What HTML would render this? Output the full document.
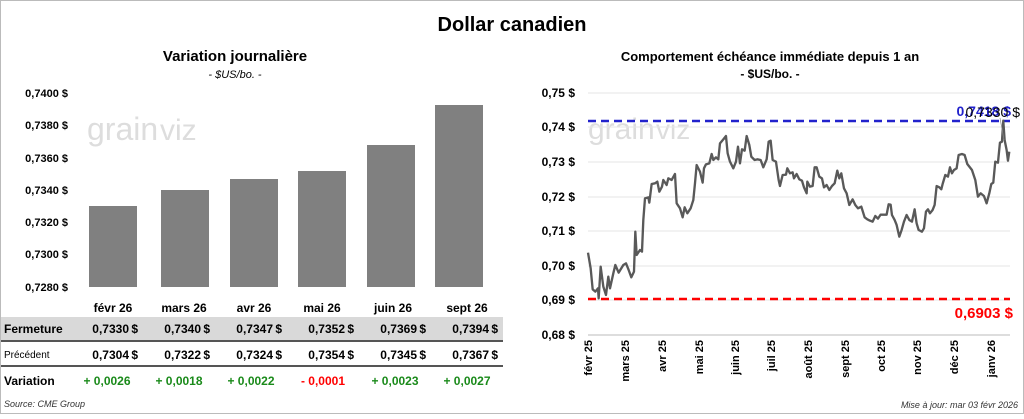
<!DOCTYPE html>
<html><head><meta charset="utf-8"><style>
body{margin:0;background:#fff;font-family:"Liberation Sans",Arial,sans-serif;}
svg text{font-family:"Liberation Sans",Arial,sans-serif;}
</style></head><body>
<svg width="1024" height="414" viewBox="0 0 1024 414" xmlns="http://www.w3.org/2000/svg">
<rect x="0.5" y="0.5" width="1023" height="413" fill="#fff" stroke="#bbb"/>
<text x="512" y="31" text-anchor="middle" font-size="20" font-weight="bold">Dollar canadien</text>
<!-- left -->
<text x="235" y="61" text-anchor="middle" font-size="15" font-weight="bold">Variation  journalière</text>
<text x="235" y="78" text-anchor="middle" font-size="11" font-style="italic">- $US/bo. -</text>
<text x="87" y="140" font-size="32" fill="#ddd">grain</text><text x="160" y="140" font-size="30" fill="#ddd">viz</text>
<g font-size="11" font-weight="bold" text-anchor="end">
<text x="68" y="97">0,7400 $</text><text x="68" y="129">0,7380 $</text><text x="68" y="162">0,7360 $</text><text x="68" y="194">0,7340 $</text><text x="68" y="226">0,7320 $</text><text x="68" y="258">0,7300 $</text><text x="68" y="291">0,7280 $</text>
</g>
<g fill="#808080">
<rect x="89" y="206" width="48" height="81"/><rect x="161" y="190" width="48" height="97"/><rect x="230" y="179" width="48" height="108"/><rect x="298" y="171" width="48" height="116"/><rect x="367" y="145" width="48" height="142"/><rect x="435" y="105" width="48" height="182"/>
</g>
<g font-size="12" font-weight="bold" text-anchor="middle">
<text x="113" y="312">févr 26</text><text x="184" y="312">mars 26</text><text x="254" y="312">avr 26</text><text x="322" y="312">mai 26</text><text x="393" y="312">juin 26</text><text x="467" y="312">sept 26</text>
</g>
<rect x="1" y="317" width="502" height="23" fill="#d9d9d9"/>
<rect x="1" y="340" width="502" height="2" fill="#555"/>
<rect x="1" y="365" width="502" height="2" fill="#555"/>
<g font-size="12" font-weight="bold">
<text x="4" y="333">Fermeture</text>
<text x="4" y="385">Variation</text>
</g>
<text x="4" y="358" font-size="10">Précédent</text>
<g font-size="12" font-weight="bold" text-anchor="end">
<text x="129" y="333">0,7330</text><text x="201" y="333">0,7340</text><text x="273" y="333">0,7347</text><text x="345" y="333">0,7352</text><text x="417" y="333">0,7369</text><text x="489" y="333">0,7394</text>
<text x="129" y="359">0,7304</text><text x="201" y="359">0,7322</text><text x="273" y="359">0,7324</text><text x="345" y="359">0,7354</text><text x="417" y="359">0,7345</text><text x="489" y="359">0,7367</text>
<text x="138" y="333">$</text><text x="210" y="333">$</text><text x="282" y="333">$</text><text x="354" y="333">$</text><text x="426" y="333">$</text><text x="498" y="333">$</text>
<text x="138" y="359">$</text><text x="210" y="359">$</text><text x="282" y="359">$</text><text x="354" y="359">$</text><text x="426" y="359">$</text><text x="498" y="359">$</text>
</g>
<g font-size="12" font-weight="bold" text-anchor="middle" fill="#1a8a1a">
<text x="107" y="385">+ 0,0026</text><text x="179" y="385">+ 0,0018</text><text x="251" y="385">+ 0,0022</text><text x="323" y="385" fill="#f00">- 0,0001</text><text x="395" y="385">+ 0,0023</text><text x="467" y="385">+ 0,0027</text>
</g>
<text x="4" y="407" font-size="9" font-style="italic" fill="#333">Source: CME Group</text>
<!-- right -->
<text x="770" y="61" text-anchor="middle" font-size="13" font-weight="bold">Comportement échéance immédiate depuis 1 an</text>
<text x="770" y="78" text-anchor="middle" font-size="12" font-weight="bold">- $US/bo. -</text>
<text x="588" y="139" font-size="30" fill="#ddd">grain</text><text x="656" y="139" font-size="28" fill="#ddd">viz</text>
<g stroke="#e6e6e6" stroke-width="1">
<line x1="588" x2="1010" y1="93" y2="93"/><line x1="588" x2="1010" y1="127" y2="127"/><line x1="588" x2="1010" y1="162" y2="162"/><line x1="588" x2="1010" y1="197" y2="197"/><line x1="588" x2="1010" y1="231" y2="231"/><line x1="588" x2="1010" y1="266" y2="266"/><line x1="588" x2="1010" y1="300" y2="300"/>
</g>
<line x1="588" x2="1010" y1="335" y2="335" stroke="#bbb"/>
<g font-size="12" font-weight="bold" text-anchor="end">
<text x="575" y="97">0,75 $</text><text x="575" y="131">0,74 $</text><text x="575" y="166">0,73 $</text><text x="575" y="201">0,72 $</text><text x="575" y="235">0,71 $</text><text x="575" y="270">0,70 $</text><text x="575" y="304">0,69 $</text><text x="575" y="339">0,68 $</text>
</g>
<g font-size="11" font-weight="bold" text-anchor="end">
<text transform="translate(592,340) rotate(-90)">févr 25</text><text transform="translate(629,340) rotate(-90)">mars 25</text><text transform="translate(666,340) rotate(-90)">avr 25</text><text transform="translate(703,340) rotate(-90)">mai 25</text><text transform="translate(739,340) rotate(-90)">juin 25</text><text transform="translate(775,340) rotate(-90)">juil 25</text><text transform="translate(812,340) rotate(-90)">août 25</text><text transform="translate(849,340) rotate(-90)">sept 25</text><text transform="translate(885,340) rotate(-90)">oct 25</text><text transform="translate(921,340) rotate(-90)">nov 25</text><text transform="translate(958,340) rotate(-90)">déc 25</text><text transform="translate(995,340) rotate(-90)">janv 26</text>
</g>
<line x1="588" x2="1010" y1="121" y2="121" stroke="#2222cc" stroke-width="2.5" stroke-dasharray="8,5"/>
<line x1="588" x2="1010" y1="299" y2="299" stroke="#f00" stroke-width="2.5" stroke-dasharray="8,5"/>
<g transform="translate(520,80) scale(0.3333)">
<polyline fill="none" stroke="#595959" stroke-width="7" stroke-linejoin="round" points="204,518 212,565 218,628 226,635 234,625 236,655 242,560 250,620 258,645 265,590 270,625 280,580 286,555 296,578 310,555 318,550 326,570 334,592 342,575 346,455 350,525 360,510 366,515 370,420 375,355 385,352 388,368 395,312 405,310 412,305 418,335 426,320 430,300 440,315 445,295 455,300 465,282 470,370 480,385 488,412 494,382 502,400 512,385 520,360 525,310 530,255 540,275 548,308 552,265 558,253 568,250 575,222 580,240 588,232 595,238 600,190 610,178 618,168 623,220 630,245 640,265 648,245 654,200 660,250 666,208 674,212 680,168 688,195 694,230 704,240 712,238 722,240 730,262 740,238 746,185 752,182 758,240 768,245 776,300 780,318 788,285 798,284 802,265 810,280 818,277 822,295 830,282 838,298 846,302 852,322 860,340 862,305 870,320 878,318 884,262 890,262 898,290 906,295 912,322 920,315 928,330 936,318 944,310 952,272 958,295 964,280 972,325 980,340 988,375 998,358 1006,375 1014,385 1024,380 1034,412 1042,418 1050,422 1058,425 1066,408 1074,416 1082,404 1092,404 1100,404 1106,373 1112,374 1116,405 1124,420 1130,435 1138,470 1145,450 1152,425 1160,405 1168,420 1176,425 1184,388 1190,430 1196,450 1206,455 1212,445 1218,395 1224,388 1230,400 1238,390 1244,375 1250,318 1258,322 1264,328 1268,312 1276,285 1284,290 1290,262 1296,280 1302,270 1310,265 1316,225 1326,222 1334,225 1342,252 1356,270 1366,300 1374,350 1382,340 1392,348 1400,370 1408,340 1414,312 1420,308 1426,245 1434,248 1440,188 1446,185 1450,122 1454,180 1460,210 1464,242 1468,215"/>
</g>
<line x1="1000" y1="118" x2="1004" y2="140" stroke="#888" stroke-width="0.7"/>
<text x="1011" y="116" text-anchor="end" font-size="14" font-weight="bold" fill="#2222cc">0,7418 $</text>
<text x="1020" y="117" text-anchor="end" font-size="14" fill="#000">0,7330 $</text>
<text x="1013" y="318" text-anchor="end" font-size="15" font-weight="bold" fill="#f00">0,6903 $</text>
<text x="1018" y="408" text-anchor="end" font-size="9" font-style="italic" fill="#333">Mise à jour: mar 03 févr 2026</text>
</svg>
</body></html>
